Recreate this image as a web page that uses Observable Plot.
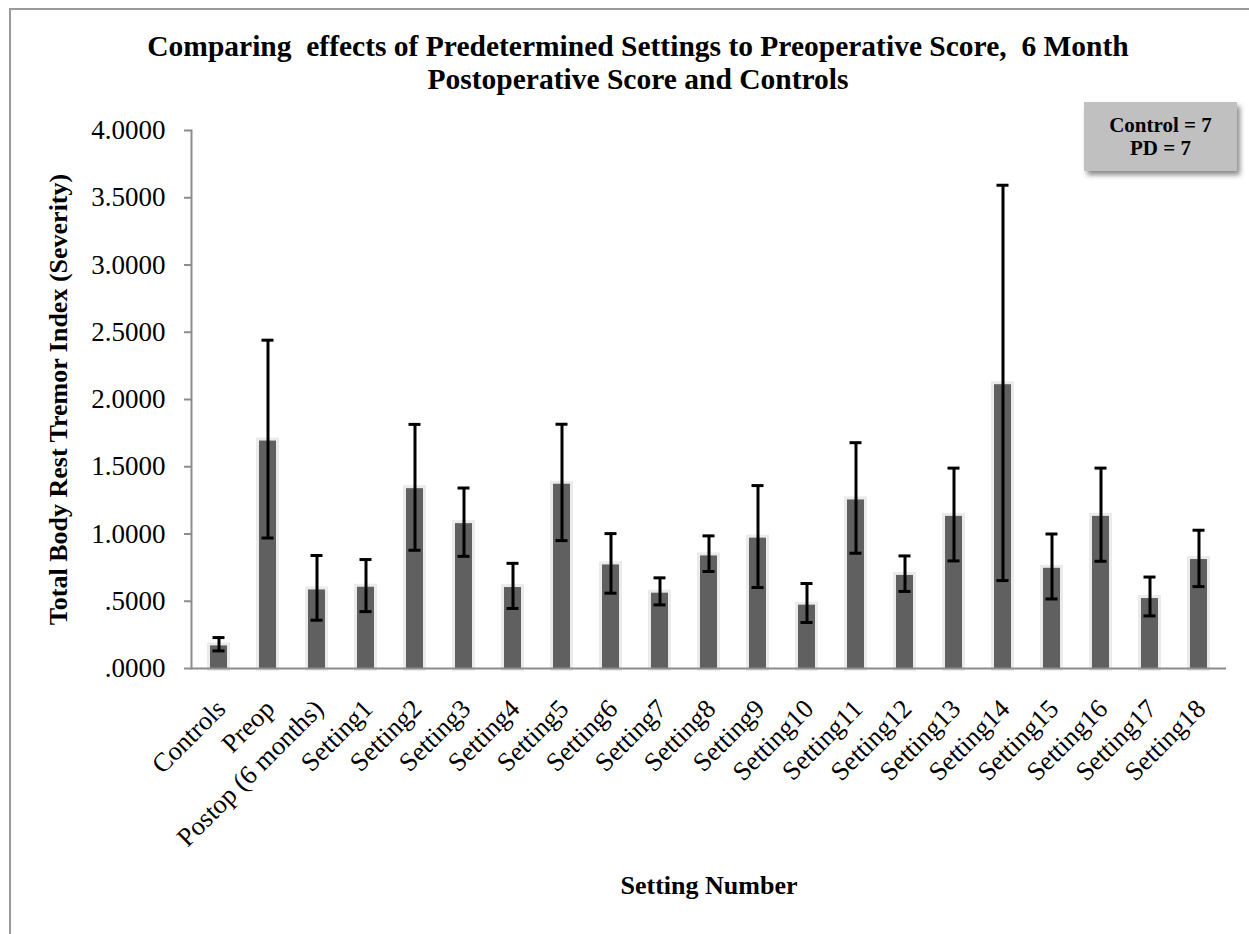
<!DOCTYPE html>
<html>
<head>
<meta charset="utf-8">
<script src="https://cdn.jsdelivr.net/npm/d3@7"></script>
<script src="https://cdn.jsdelivr.net/npm/@observablehq/plot@0.6"></script>
<style>
  html, body { margin: 0; padding: 0; background: #fff; }
  #wrap { position: relative; width: 1249px; height: 934px; overflow: hidden; font-family: "Liberation Serif", "Times New Roman", serif; }
  #frameTop { position: absolute; left: 9px; top: 8px; width: 1260px; height: 0; border-top: 2px solid #9a9a9a; }
  #frameLeft { position: absolute; left: 9px; top: 8px; width: 0; height: 940px; border-left: 2px solid #9a9a9a; }
  .title { position: absolute; left: 0; width: 1276px; text-align: center; font-weight: bold; font-size: 29.5px; color: #000; white-space: pre; }
  #legend { position: absolute; left: 1084px; top: 102px; width: 153px; height: 69px; background: #c0c0c0;
            box-shadow: 3px 4px 5px rgba(0,0,0,0.45); text-align: center; font-weight: bold; font-size: 21px; line-height: 23px;
            box-sizing: border-box; padding-top: 12px; }
  svg { position: absolute; left: 0; top: 0; }
</style>
</head>
<body>
<div id="wrap">
  <div id="frameTop"></div>
  <div id="frameLeft"></div>
  <div class="title" style="top: 30px;">Comparing  effects of Predetermined Settings to Preoperative Score,  6 Month</div>
  <div class="title" style="top: 63px;">Postoperative Score and Controls</div>
  <div id="legend">Control = 7<br>PD = 7</div>
</div>
<script>
const categories = ["Controls", "Preop", "Postop (6 months)", "Setting1", "Setting2", "Setting3", "Setting4",
  "Setting5", "Setting6", "Setting7", "Setting8", "Setting9", "Setting10", "Setting11", "Setting12",
  "Setting13", "Setting14", "Setting15", "Setting16", "Setting17", "Setting18"];
const means = [0.168, 1.691, 0.584, 0.604, 1.337, 1.077, 0.602, 1.370, 0.770, 0.560, 0.837, 0.969,
  0.471, 1.253, 0.692, 1.131, 2.110, 0.745, 1.131, 0.520, 0.810];
const lower = [0.131, 0.970, 0.359, 0.423, 0.879, 0.834, 0.446, 0.951, 0.560, 0.473, 0.721, 0.602,
  0.342, 0.857, 0.573, 0.800, 0.654, 0.517, 0.797, 0.391, 0.609];
const upper = [0.230, 2.441, 0.840, 0.810, 1.815, 1.342, 0.782, 1.816, 1.003, 0.674, 0.986, 1.360,
  0.632, 1.679, 0.837, 1.490, 3.593, 1.000, 1.490, 0.680, 1.028];
const yTicks = [0, 0.5, 1, 1.5, 2, 2.5, 3, 3.5, 4];
const yTitle = "Total Body Rest Tremor Index (Severity)";
const xTitle = "Setting Number";

const data = categories.map((c, i) => ({ cat: c, mean: means[i], lo: lower[i], hi: upper[i] }));
const fmt = d => d3.format(".4f")(d).replace(/^0\./, ".");
const font = "Liberation Serif, Times New Roman, serif";

const chart = Plot.plot({
  width: 1249,
  height: 934,
  marginLeft: 191,
  marginRight: 23,
  marginTop: 130,
  marginBottom: 266,
  style: { fontFamily: font, background: "transparent", overflow: "visible" },
  x: { type: "band", domain: categories, paddingInner: 0.655, paddingOuter: 0.33 },
  y: { domain: [0, 4] },
  marks: [
    Plot.barY(data, { x: "cat", y: "mean", fill: "#606060", stroke: "#ebebeb", strokeWidth: 6, paintOrder: "stroke" }),
    Plot.ruleX(data, { x: "cat", y1: "lo", y2: "hi", stroke: "#000", strokeWidth: 3 }),
    Plot.tickY(data, { x: "cat", y: "lo", stroke: "#000", strokeWidth: 3, insetLeft: 2.5, insetRight: 2.5 }),
    Plot.tickY(data, { x: "cat", y: "hi", stroke: "#000", strokeWidth: 3, insetLeft: 2.5, insetRight: 2.5 }),
    Plot.frame({ anchor: "left", stroke: "#8c8c8c", strokeWidth: 2 }),
    Plot.ruleY([0], { stroke: "#8c8c8c", strokeWidth: 2 }),
    Plot.axisY({ ticks: yTicks, tickFormat: fmt, tickSize: 7, tickPadding: 19, stroke: "#8c8c8c", strokeWidth: 2,
      fill: "#000", fontSize: 27, label: null }),
    Plot.axisX({ tickRotate: -45, tickSize: 0, tickPadding: 36, dx: 2, fill: "#000", fontSize: 26.5, label: null }),
    Plot.text([yTitle], { frameAnchor: "left", dx: -133, rotate: -90, textAnchor: "middle", fontSize: 26, fontWeight: "bold", fill: "#000" }),
    Plot.text([xTitle], { frameAnchor: "bottom", dy: 225, fontSize: 26, fontWeight: "bold", fill: "#000" })
  ]
});
document.getElementById("wrap").appendChild(chart);
</script>
</body>
</html>
